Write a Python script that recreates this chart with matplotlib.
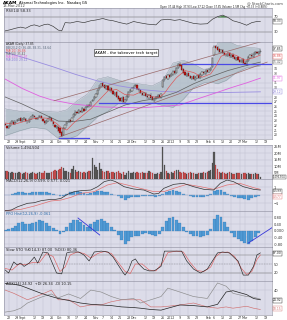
import numpy as np
import pandas as pd
import matplotlib
matplotlib.use('Agg')
import matplotlib.pyplot as plt
import matplotlib.transforms as mtrans

# ---- data (AKAM daily, 18 Aug 2011 - 14 Mar 2012) ----
closes = [22.0, 21.4, 21.8, 22.5, 22.9, 22.3, 22.8, 23.1, 23.4, 23.0,
          23.3, 23.6, 22.9, 22.6, 23.2, 23.8, 24.1, 23.7, 23.3, 23.6, 24.0, 23.5, 23.0, 22.4, 22.9, 23.4, 23.8, 22.9, 22.2, 21.6, 21.9, 20.8,
          20.3, 19.8, 21.4, 22.1, 22.6, 23.0, 22.8, 23.6, 24.3, 24.9, 24.6, 25.2, 24.8, 25.6, 25.1, 25.8, 26.2, 26.0, 27.0, 27.4, 27.9,
          28.6, 29.5, 30.2, 30.8, 30.4, 29.9, 30.3, 29.5, 29.8, 29.2, 28.6, 28.9, 28.1, 27.6, 27.2, 27.8, 27.0, 27.3, 28.2, 29.0, 29.4, 29.9,
          30.2, 30.5, 29.8, 29.4, 28.9, 28.5, 28.8, 28.2, 27.9, 28.4, 27.8, 27.3, 27.6, 27.9, 28.3, 28.0, 28.6, 31.6, 32.3, 32.0, 32.6, 32.3,
          32.9, 33.4, 33.0, 34.2, 35.0, 34.6, 33.8, 33.1, 32.6, 32.9, 32.4, 32.0, 32.3, 31.8, 32.2, 32.5, 32.1, 32.8, 33.2, 33.0, 33.6, 33.4,
          33.8, 34.1, 36.3, 38.7, 38.4, 38.0, 37.6, 37.9, 37.3, 37.0, 36.8, 37.2, 36.6, 36.9, 36.4, 36.0, 36.3, 35.8, 35.5, 35.9, 35.2,
          35.0, 35.6, 36.4, 36.9, 36.6, 37.2, 37.5, 37.3, 37.52, 37.85]
opens = [22.3, 21.9, 21.5, 21.9, 22.6, 22.8, 22.4, 22.9, 23.1, 23.5,
         22.9, 23.4, 23.4, 22.8, 22.7, 23.3, 23.9, 24.0, 23.6, 23.4, 23.7, 23.9, 23.4, 22.9, 22.5, 23.0, 23.5, 23.6, 22.8, 22.1, 21.5, 21.7,
         21.4, 20.6, 20.0, 21.5, 22.2, 22.7, 23.1, 22.9, 23.7, 24.2, 24.8, 24.7, 25.1, 24.9, 25.5, 25.2, 25.9, 26.3, 26.1, 27.1, 27.5,
         28.0, 28.7, 29.6, 30.3, 30.9, 30.5, 29.8, 30.4, 29.4, 29.9, 29.3, 28.5, 29.0, 28.2, 27.7, 27.1, 27.9, 26.9, 27.4, 28.1, 29.1, 29.3,
         30.0, 30.3, 30.6, 29.7, 29.5, 28.8, 28.4, 28.9, 28.3, 27.8, 28.5, 27.9, 27.2, 27.7, 28.0, 28.4, 27.9, 30.2, 31.5, 32.4, 31.9, 32.7,
         32.5, 32.8, 33.5, 33.1, 34.1, 35.1, 34.7, 33.9, 33.2, 32.5, 33.0, 32.5, 31.9, 32.4, 31.7, 32.1, 32.6, 32.0, 32.7, 33.3, 32.9, 33.7,
         33.3, 33.7, 34.4, 37.0, 38.8, 38.5, 38.1, 37.5, 38.0, 37.4, 36.9, 36.7, 37.3, 36.5, 37.0, 36.5, 35.9, 36.4, 35.9, 35.4, 36.0,
         35.3, 34.9, 35.7, 36.3, 37.0, 36.5, 37.1, 37.6, 37.2, 37.44]
volume_m = [6.5, 5.8, 5.2, 4.9, 5.5, 4.8, 4.4, 4.9, 5.1, 4.6,
            4.2, 4.8, 5.3, 4.5, 4.1, 5.0, 5.6, 4.3, 4.0, 4.4, 5.2, 4.7, 4.9, 5.8, 4.6, 4.3, 4.9, 5.5, 6.1, 6.8, 5.9, 7.2,
            7.8, 9.0, 8.2, 6.5, 5.9, 5.3, 4.8, 7.5, 10.2, 6.9, 5.4, 6.3, 5.1, 4.7, 5.6, 4.9, 5.3, 6.0, 5.8, 16.0, 10.5,
            8.9, 7.2, 12.4, 8.0, 6.1, 5.5, 5.8, 6.3, 4.9, 5.2, 5.7, 4.6, 5.4, 6.0, 4.8, 4.1, 5.5, 3.2, 4.6, 5.9, 4.7, 5.0,
            5.6, 4.9, 5.3, 4.5, 4.8, 5.7, 4.3, 5.0, 4.6, 6.4, 5.1, 4.4, 3.9, 4.2, 4.7, 3.8, 5.2, 25.0, 10.8, 6.2, 4.5, 3.9,
            5.1, 4.8, 5.9, 7.3, 6.6, 5.2, 4.7, 5.5, 4.3, 4.1, 4.9, 5.3, 4.4, 4.8, 3.9, 4.2, 5.0, 4.4, 4.6, 5.3, 4.8, 5.7,
            6.3, 7.0, 12.5, 20.5, 10.9, 7.4, 5.6, 4.9, 5.3, 4.6, 4.2, 4.8, 5.1, 4.4, 4.0, 3.8, 4.3, 4.9, 4.5, 3.9, 4.6,
            4.7, 3.8, 4.3, 4.1, 3.6, 3.9, 4.4, 3.7, 4.0, 1.5]

# overlays (trading-day number, value)
ma10_day = [0, 5, 10, 15, 20, 25, 30, 33, 36, 40, 45, 50, 55, 60, 65, 70, 75, 80, 85, 90, 93, 96, 100, 105, 110, 115, 120, 123, 126, 130, 135, 140, 145, 149]
ma10 = [22.5, 22.2, 22.7, 23.3, 23.6, 23.5, 22.4, 21.4, 21.0, 22.5, 24.0, 25.5, 27.4, 29.3, 29.6, 28.5, 28.4, 29.2, 28.1, 27.9, 28.8, 30.3, 32.1, 33.6, 33.2, 32.2, 32.9, 34.5, 36.6, 37.4, 36.8, 35.8, 36.3, 36.9]
ma50_day = [0, 10, 20, 31, 40, 50, 60, 70, 80, 90, 100, 110, 120, 130, 140, 149]
ma50 = [28.0, 26.5, 24.8, 22.9, 22.8, 23.3, 24.8, 26.3, 27.2, 27.8, 29.0, 30.8, 32.3, 33.6, 34.6, 35.4]
ma100_day = [0, 10, 20, 27, 40, 56, 79, 91, 102, 114, 124, 133, 141, 149]
ma100 = [31.8, 29.8, 28.2, 27.4, 26.5, 25.9, 25.7, 26.0, 26.3, 27.8, 29.0, 30.1, 31.0, 32.0]
ma200_day = [0, 14, 28, 41, 54, 66, 79, 91, 105, 120, 135, 149]
ma200 = [37.5, 36.0, 34.4, 32.8, 31.4, 30.4, 29.6, 29.2, 29.0, 28.9, 29.0, 29.1]
bb_day = [0, 8, 16, 24, 31, 36, 42, 48, 54, 60, 66, 72, 78, 86, 92, 98, 104, 110, 116, 120, 124, 129, 135, 141, 149]
bb_upper = [25.5, 25.0, 24.8, 24.9, 24.8, 25.3, 27.2, 28.6, 31.8, 32.3, 31.6, 31.0, 30.8, 30.4, 31.5, 35.2, 35.8, 35.0, 33.8, 34.2, 39.5, 40.0, 39.0, 38.6, 38.3]
bb_lower = [19.8, 20.8, 21.6, 21.2, 19.2, 19.0, 19.8, 21.8, 23.8, 25.0, 26.6, 26.5, 26.9, 26.8, 26.2, 25.8, 27.5, 30.0, 31.0, 31.2, 30.8, 31.5, 33.2, 34.2, 34.6]

# hand drawn lines
channel_upper = ([28.5, 153.0], [27.2, 40.1])
channel_lower = ([31.4, 153.0], [19.5, 35.4])
support_levels = [(103, 156, 35.0), (55, 156, 26.7), (31.5, 49, 19.3)]
ppo_trend = [([42.5, 55.2], [0.76, -0.26]), ([142.0, 156.4], [-0.74, 0.22])]

rsi_day = [0, 3, 6, 9, 12, 15, 17, 20, 23, 25, 28, 31, 33, 35, 38, 42, 46, 50, 53, 57, 60, 63, 67, 71, 75, 78, 83, 88, 91, 95, 99, 102, 106, 110, 114, 118, 121, 124, 127, 130, 133, 137, 141, 144, 147, 149]
rsi = [33, 36, 40, 43, 40, 47, 49, 45, 50, 51, 45, 35, 33, 55, 54, 58, 55, 60, 62, 66, 62, 60, 55, 51, 58, 55, 51, 49, 62, 64, 61, 63, 58, 53, 51, 52, 64, 71, 75, 69, 60, 55, 48, 55, 58, 58]

macd_day = [0, 3.5, 7.4, 13, 17, 21, 26.7, 29.6, 32.6, 36.4, 40.3, 44.2, 50, 54, 57.8, 61.6, 64.5, 69.4, 75, 81, 86.8, 89.7, 92.6, 98.4, 104, 110, 116, 121.7, 125.6, 129.5, 133.3, 139, 145, 149]
macd = [-1.96, -1.88, -1.46, -1.04, -0.96, -0.71, -0.54, -0.54, -0.42, 0.08, 0.42, 0.54, 0.62, 1.04, 1.67, 1.87, 1.67, 1.04, 0.75, 0.62, 0.12, 0.21, 0.83, 1.33, 1.46, 1.04, 0.71, 0.62, 1.46, 1.87, 1.67, 1.04, 0.71, 0.62]
signal_day = [0, 9.3, 17, 26.7, 32.6, 38.4, 44.2, 52, 59.7, 65.5, 71.3, 79, 86.8, 92.6, 98.4, 106, 114, 121.7, 129.5, 137, 145, 149]
signal = [-1.96, -1.79, -1.38, -0.75, -0.63, -0.29, 0.21, 0.42, 1.25, 1.54, 1.25, 0.83, 0.42, 0.42, 0.83, 1.33, 1.04, 0.71, 1.25, 1.46, 0.92, 0.71]

hist_day = list(range(0, 150, 2))
ppo_hist = [0.03, 0.08, 0.15, 0.3, 0.45, 0.5, 0.42, 0.4, 0.45, 0.55, 0.62, 0.58, 0.45, 0.3, 0.15, 0.02,
            -0.22, -0.1, 0.25, 0.45, 0.62, 0.66, 0.55, 0.35, 0.2, 0.4, 0.55, 0.65, 0.68, 0.58, 0.45, 0.2,
            0.05, -0.25, -0.55, -0.82, -0.6, -0.35, -0.3, -0.32, -0.2, -0.15, -0.18, -0.25, -0.3, -0.2,
            0.2, 0.6, 0.78, 0.82, 0.65, 0.45, 0.25, -0.05, -0.2, -0.3, -0.32, -0.35, -0.3, -0.25,
            0.1, 0.7, 0.92, 0.85, 0.55, 0.2, -0.15, -0.35, -0.5, -0.62, -0.75, -0.82, -0.6, -0.35, -0.12]

sto_k_day = [0, 2, 5, 7, 9, 11, 14, 17, 19, 22, 25, 27, 30, 33, 36, 38, 43, 46, 49, 52, 56, 60, 63, 69, 70, 72, 74, 76, 78, 81,
             84, 87, 91, 93, 98, 103, 106, 110, 114, 118, 121, 124, 127, 131, 134, 136, 139, 142, 145, 147, 149]
sto_k = [30, 20, 57, 47, 53, 42, 53, 73, 53, 90, 87, 60, 20, 17, 87, 90, 90, 80, 60, 90, 93, 90, 73, 20, 13, 30, 60, 67, 50, 33,
         27, 27, 42, 93, 93, 93, 60, 33, 20, 33, 60, 87, 90, 87, 70, 60, 13, 13, 42, 80, 87]
sto_d_day = [0, 4, 8, 12, 16, 20, 24, 28, 32, 35, 38, 42, 46, 50, 54, 58, 62, 66, 70, 73, 76, 80, 84, 88, 92, 95, 100, 104, 108, 112,
             116, 120, 123, 126, 130, 134, 138, 141, 144, 147, 149]
sto_d = [35, 30, 50, 48, 55, 55, 85, 75, 25, 40, 80, 90, 85, 70, 85, 92, 85, 55, 25, 18, 50, 50, 30, 27, 55, 88, 93, 90, 55, 28,
         25, 40, 75, 88, 90, 75, 35, 15, 25, 65, 80]

adx_day = [0, 5, 9, 13, 21, 27, 31, 37, 44, 50, 56, 62, 68, 75, 79, 85, 91, 95, 102, 110, 118, 124, 129, 133, 141, 145, 149]
adx = [50, 49, 47, 43, 35, 30, 27, 24, 20, 18, 17, 16, 14, 13, 12, 10, 9, 12, 17, 16, 14, 18, 37, 39, 33, 27, 25]
plus_di = [6, 8, 12, 20, 29, 34, 28, 34, 27, 40, 37, 30, 25, 27, 20, 25, 30, 43, 37, 30, 27, 51, 46, 35, 30, 29, 26]
minus_di = [40, 35, 30, 25, 33, 40, 25, 25, 14, 17, 17, 22, 25, 25, 25, 14, 14, 15, 17, 20, 14, 12, 14, 12, 15, 12, 10]

dates = pd.bdate_range('2011-08-18', '2012-03-14')
days = np.arange(len(dates))
closes = np.array(closes)
opens = np.array(opens)

# ---- figure layout (pixel rows of the original) ----
fig = plt.figure(figsize=(2.87, 3.2), dpi=100)
fig.patch.set_facecolor('white')
L, W = 4 / 287, 268 / 287
BG = '#dcdce9'
GRID = '#bdbdcf'
FS = 2.6


def panel(top, bottom):
    ax = fig.add_axes([L, 1 - bottom / 320, W, (bottom - top) / 320])
    ax.set_facecolor(BG)
    for s in ax.spines.values():
        s.set_color('#8a8a9a')
        s.set_linewidth(0.4)
    ax.yaxis.tick_right()
    ax.tick_params(axis='both', length=0, labelsize=FS, pad=1, colors='#333333')
    ax.set_xlim(-0.7, 155.8)
    return ax


# week ticks and month labels (month start wins over a Monday close to it)
tick_dates = pd.bdate_range('2011-08-18', '2012-03-23')
month_names = {9: 'Sept', 10: 'Oct', 11: 'Nov', 12: 'Dec', 1: '2012', 2: 'Feb', 3: 'Mar'}
month_pos = [i for i in range(1, len(tick_dates)) if tick_dates[i].month != tick_dates[i - 1].month]
ticks = {i: month_names[tick_dates[i].month] for i in month_pos}
for i, d in enumerate(tick_dates):
    if d.weekday() == 0 and min(abs(i - m) for m in month_pos) >= 3:
        ticks[i] = str(d.day)
tick_pos = sorted(ticks)
tick_lab = [ticks[i] for i in tick_pos]


def grid_x(ax, labels=False):
    ax.set_xticks(tick_pos)
    ax.set_xticklabels(tick_lab if labels else [])
    ax.grid(True, color=GRID, linewidth=0.3)
    ax.set_axisbelow(True)


def label(ax, s, color='#222222', y=0.985, size=FS):
    ax.text(0.006, y, s, transform=ax.transAxes, fontsize=size, va='top', ha='left', color=color)


def value_box(ax, v, s, color, size=2.2):
    tr = mtrans.blended_transform_factory(ax.transAxes, ax.transData)
    ax.text(1.004, v, s, transform=tr, fontsize=size, va='center', ha='left', color=color,
            bbox=dict(boxstyle='square,pad=0.12', fc='white', ec=color, lw=0.3), clip_on=False)


# header
fig.text(0.01, 0.997, 'AKAM', fontsize=3.2, weight='bold', va='top')
fig.text(0.065, 0.996, 'Akamai Technologies Inc.  Nasdaq GS', fontsize=FS, va='top')
fig.text(0.01, 0.986, '13-Mar-2012', fontsize=FS, va='top', color='#444444')
fig.text(0.985, 0.997, '@ StockCharts.com', fontsize=FS, va='top', ha='right', color='#444444')
fig.text(0.93, 0.984, 'Open 37.44 High 37.93 Low 37.22 Close 37.85 Volume 1.5M Chg +0.33 (+0.88%)',
         fontsize=1.9, va='top', ha='right', color='#222222')

# ---- RSI ----
ax_rsi = panel(8, 42)
ax_rsi.set_ylim(3.3, 94)
ax_rsi.set_yticks([30, 70])
grid_x(ax_rsi)
ax_rsi.axhline(70, color='#777777', lw=0.35)
ax_rsi.axhline(30, color='#777777', lw=0.35)
r = np.array(rsi, dtype=float)
ax_rsi.fill_between(rsi_day, 70, r, where=r > 70, color='#3c8c3c', interpolate=True, lw=0)
ax_rsi.fill_between(rsi_day, 30, r, where=r < 30, color='#cc3333', interpolate=True, lw=0)
ax_rsi.plot(rsi_day, rsi, color='#333333', lw=0.45)
label(ax_rsi, 'RSI(14) 58.33')
value_box(ax_rsi, rsi[-1], '58.33', '#333333')

# ---- price ----
ax_p = panel(42, 139)
ax_p.set_ylim(19.1, 39.66)
box_levels = [38.25, 36.6, 35.42, 31.97, 29.12]
price_ticks = [v for v in range(20, 40) if min(abs(v - b) for b in box_levels) > 0.75]
ax_p.set_yticks(price_ticks)
ax_p.set_yticklabels([str(v) for v in price_ticks], fontsize=2.2)
grid_x(ax_p)
ax_p.fill_between(bb_day, bb_lower, bb_upper, color='#aebcc6', alpha=0.75, lw=0)
ax_p.plot(bb_day, bb_upper, color='#8c9aa4', lw=0.3)
ax_p.plot(bb_day, bb_lower, color='#8c9aa4', lw=0.3)
ax_p.plot(ma200_day, ma200, color='#9a8ee0', lw=0.6)
ax_p.plot(ma100_day, ma100, color='#e060e0', lw=0.6)
ax_p.plot(ma50_day, ma50, color='#606060', lw=0.5)
ax_p.plot(*channel_upper, color='#9a6a6a', lw=0.5)
ax_p.plot(*channel_lower, color='#9a6a6a', lw=0.5)
for x0, x1, lvl in support_levels:
    ax_p.plot([x0, x1], [lvl, lvl], color='#4a4ae6', lw=0.9)
ax_p.plot(ma10_day, ma10, color='#e05050', lw=0.45)

down = closes < opens
body_lo = np.minimum(opens, closes)
body_h = np.maximum(np.abs(closes - opens), 0.12)
ax_p.vlines(days, body_lo - 0.25, body_lo + body_h + 0.25, color='#333333', lw=0.25)
ax_p.bar(days[down], body_h[down], bottom=body_lo[down], width=0.75, color='#d01010', edgecolor='#8a0000', lw=0.2)
ax_p.bar(days[~down], body_h[~down], bottom=body_lo[~down], width=0.75, color='white', edgecolor='#111111', lw=0.25)

ax_p.text(52.3, 37.4, 'AKAM - the takeover tech target', fontsize=2.8, va='center', ha='left',
          bbox=dict(boxstyle='square,pad=0.3', fc='white', ec='#222222', lw=0.4))
legend_rows = [('AKAM (Daily) 37.85', '#222222'), ('BB(20,2.0) 36.48, 38.31, 34.64', '#556677'),
               ('MA(10) 36.86', '#e05050'), ('MA(50) 35.42', '#606060'),
               ('MA(100) 31.97', '#e060e0'), ('MA(200) 29.12', '#8a7ed8')]
for k, (s, c) in enumerate(legend_rows):
    label(ax_p, s, c, y=0.995 - k * 0.033, size=2.1)
for v, s, c in zip(box_levels, ['37.85', '36.86', '35.42', '31.97', '29.12'],
                   ['#222222', '#e05050', '#606060', '#e060e0', '#8a7ed8']):
    value_box(ax_p, v, s, c)
ax_p.set_xticklabels(tick_lab)
ax_p.tick_params(axis='x', labelsize=2.3, pad=0.8)

# ---- volume ----
ax_v = panel(145, 179)
ax_v.set_ylim(0, 26.2)
ax_v.set_yticks([5, 10, 15, 20, 25])
ax_v.set_yticklabels(['5M', '10M', '15M', '20M', '25M'])
grid_x(ax_v)
vol_up = np.r_[True, closes[1:] >= closes[:-1]]
ax_v.bar(days[vol_up], np.array(volume_m)[vol_up], width=0.75, color='#5a5a5a', edgecolor='#333333', lw=0.15)
ax_v.bar(days[~vol_up], np.array(volume_m)[~vol_up], width=0.75, color='#c85050', edgecolor='#8a2a2a', lw=0.15)
label(ax_v, 'Volume 1,494,504')
value_box(ax_v, 1.6, '1,494,504', '#333333', size=1.8)

# ---- MACD ----
ax_m = panel(179, 211)
ax_m.set_ylim(-2.0, 2.0)
ax_m.set_yticks([-1, 1])
grid_x(ax_m)
ax_m.axhline(0, color=GRID, lw=0.3)
ax_m.bar(hist_day, np.array(ppo_hist) * 0.7, width=1.7, color='#4f9ad4', edgecolor='#2a6aa8', lw=0.15)
ax_m.plot(signal_day, signal, color='#e07070', lw=0.5)
ax_m.plot(macd_day, macd, color='#333333', lw=0.5)
label(ax_m, 'MACD(12,26,9) 0.599, 0.577, 0.021')
value_box(ax_m, 0.45, '0.599', '#333333')
value_box(ax_m, -0.2, '0.577', '#e07070')

# ---- PPO histogram ----
ax_h = panel(211, 247)
ax_h.set_ylim(-0.98, 1.18)
ax_h.set_yticks([-0.8, -0.4, 0, 0.4, 0.8])
ax_h.set_yticklabels(['-0.80', '-0.40', '0.000', '0.40', '0.80'])
grid_x(ax_h)
ax_h.bar(hist_day, ppo_hist, width=1.7, color='#4f9ad4', edgecolor='#2a6aa8', lw=0.15)
for xs, ys in ppo_trend:
    ax_h.plot(xs, ys, color='#3535d8', lw=0.6)
label(ax_h, 'PPO Hist(12,26,9) -0.061', '#2a6aa8')

# ---- stochastic ----
ax_s = panel(247, 281)
ax_s.set_ylim(-6.7, 106.7)
ax_s.set_yticks([20, 50])
grid_x(ax_s)
ax_s.axhline(80, color='#777777', lw=0.35)
ax_s.axhline(20, color='#777777', lw=0.35)
ax_s.axhline(50, color='#888888', lw=0.3, ls=(0, (3, 3)))
ax_s.plot(sto_d_day, sto_d, color='#e06060', lw=0.45)
ax_s.plot(sto_k_day, sto_k, color='#222222', lw=0.45)
label(ax_s, 'Slow STO %K(14,3) 87.00  %D(3) 80.36')
value_box(ax_s, 86, '87.00', '#222222')

# ---- ADX ----
ax_a = panel(281, 315)
ax_a.set_ylim(1.5, 54)
ax_a.set_yticks([40])
grid_x(ax_a, labels=True)
ax_a.tick_params(axis='x', labelsize=2.3, pad=0.8)
ax_a.plot(adx_day, minus_di, color='#d07070', lw=0.45)
ax_a.plot(adx_day, plus_di, color='#8a8a8a', lw=0.45)
ax_a.plot(adx_day, adx, color='#222222', lw=0.5)
label(ax_a, 'ADX(14) 24.92  +DI 26.34  -DI 10.15')
value_box(ax_a, 24, '24.92', '#222222')
value_box(ax_a, 11, '10.15', '#d07070')

fig.savefig('out.png', dpi=100)
